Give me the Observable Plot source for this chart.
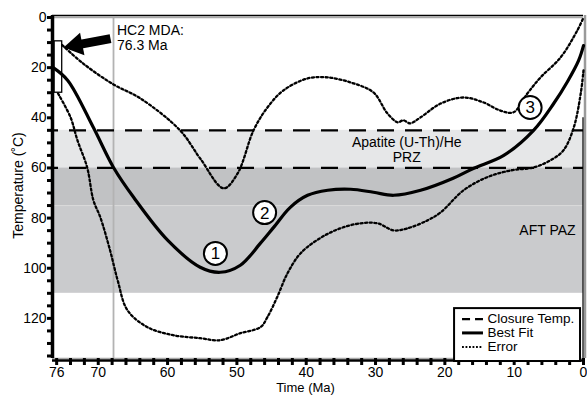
<!DOCTYPE html>
<html><head><meta charset="utf-8">
<script src="https://cdn.jsdelivr.net/npm/d3@7"></script>
<script src="https://cdn.jsdelivr.net/npm/@observablehq/plot@0.6"></script>
<style>body{margin:0;background:#fff}</style>
</head><body><div id="chart"></div>
<script>
// ---- data (Time in Ma, Temperature in °C) ----
const bestFit = [
  [76.5,20],[74.4,25.1],[70.7,43.9],[67.8,59.8],[64.9,71.7],[60.0,88.8],[55.3,99.6],
  [52.4,101.6],[49.5,98.8],[46.6,90.0],[44.7,83.7],[42.3,75.7],[39.8,70.9],[36.9,68.9],
  [33.6,68.5],[30.3,69.7],[27.4,70.9],[23.5,68.9],[18.8,64.1],[15.9,60.2],[11.5,55.0],
  [7.2,45.0],[4.3,34.3],[2.3,25.5],[0.7,17.1],[0,11.2]
];
const upperError = [
  [75.2,11],[72.2,18.3],[67.8,26.7],[63.9,32.3],[58.2,45.0],[55.3,56.2],[51.9,68.1],
  [49.9,62.2],[47.6,45.0],[45.6,35.9],[43.3,29.1],[39.8,24.3],[36.9,23.9],[33.6,25.9],
  [30.3,29.9],[28.3,38.2],[26.8,41.8],[26.0,41.0],[25.0,42.2],[23.5,39.8],[20.6,34.3],
  [17.3,31.9],[14.4,33.9],[12.0,37.1],[10.1,37.8],[8.1,30.3],[6.2,23.9],[3.3,15.9],
  [0.9,5.2],[0,0]
];
const lowerError = [
  [75.8,30.3],[74.0,39.8],[73.0,49.0],[71.6,59.8],[70.7,72.9],[69.7,79.7],[68.3,92.8],
  [67.2,104.8],[65.8,116.7],[62.9,123.5],[59.2,126.7],[55.3,127.9],[52.4,128.7],
  [49.5,125.9],[46.6,123.5],[45.6,119.5],[44.2,111.6],[42.7,102.0],[40.8,94.0],
  [38.0,88.0],[35.1,84.1],[32.2,82.1],[29.7,82.1],[27.4,84.9],[25.4,84.1],[22.5,80.9],
  [20.6,77.7],[17.3,68.9],[13.9,63.7],[10.5,61.0],[7.2,59.8],[4.8,57.0],[2.9,53.0],
  [1.4,43.8],[0.4,30.3],[0,21.1]
];
const closureTemps = [45, 60];
const heBand = [45, 60];
const aftUpper = [60, 75];
const aftLower = [75, 110];
const mdaAge = 67.8;
const mdaBoxX = [76.3, 75.2];
const mdaBoxT = [9.5, 30];
const arrowTail = [68.23, 8.4];
const arrowNeck = [72.47, 10.6];
const arrowTip = [75.0, 12.0];
const stageLabels = ["1", "2", "3"];
const stageAge = [53.1, 46.0, 7.7];
const stageTemp = [94.1, 77.8, 35.9];
const xTickValues = d3.range(0, 77, 2);
const xTickLabels = [76, 70, 60, 50, 40, 30, 20, 10, 0];
const yTickValues = d3.range(0, 136, 5);
const yTickLabels = [0, 20, 40, 60, 80, 100, 120];
const legendNames = ["Closure Temp.", "Best Fit", "Error"];

// ---- chart ----
const FONT = "'Liberation Sans', Arial, Helvetica, sans-serif";
const stages = stageLabels.map((n, i) => ({n, x: stageAge[i], y: stageTemp[i]}));
const arrowHead = {draw(ctx) { ctx.moveTo(0, 0); ctx.lineTo(-19, -11.5); ctx.lineTo(-19, 11.5); ctx.closePath(); }};
const legendRows = [120.3, 125.8, 131.4];
const legendStyles = [
  {stroke: "black", strokeWidth: 2.4, strokeDasharray: "8,5"},
  {stroke: "black", strokeWidth: 3},
  {stroke: "black", strokeWidth: 2, strokeDasharray: "1.8,1.7"}
];
const dotted = {stroke: "black", strokeWidth: 2.3, strokeDasharray: "2.1,2.5", curve: "catmull-rom"};

const chart = Plot.plot({
  width: 587, height: 395,
  marginLeft: 52, marginRight: 4, marginTop: 15, marginBottom: 37,
  style: {fontFamily: FONT, fontSize: "14px", background: "white", overflow: "visible", color: "black"},
  x: {domain: [76.6, 0], label: null},
  y: {domain: [-0.8, 136], reverse: true, label: null},
  marks: [
    // bands
    Plot.rect([heBand], {x1: 76.6, x2: 0, y1: d => d[0], y2: d => d[1], fill: "#e6e7e8"}),
    Plot.rect([aftUpper], {x1: 76.6, x2: 0, y1: d => d[0], y2: d => d[1], fill: "#c1c2c4"}),
    Plot.rect([aftLower], {x1: 76.6, x2: 0, y1: d => d[0], y2: d => d[1], fill: "#cacbcd"}),
    Plot.ruleY([aftLower[0]], {stroke: "#dadada", strokeWidth: 1}),
    // MDA vertical line
    Plot.ruleX([mdaAge], {y1: 0, y2: 136, stroke: "#b3b3b3", strokeWidth: 1.8}),
    // closure temperatures
    Plot.ruleY(closureTemps, {stroke: "black", strokeWidth: 2.2, strokeDasharray: "17,11", strokeDashoffset: 11}),
    // frame
    Plot.ruleY([0], {stroke: "#a9a9a9", strokeWidth: 1.5}),
    Plot.ruleY([-0.8], {stroke: "black", strokeWidth: 1.5}),
    Plot.ruleX([0], {stroke: "#9a9a9a", strokeWidth: 2.5, dx: 1.5}),
    Plot.ruleX([0], {y1: 40, y2: 136, stroke: "black", strokeWidth: 1.2, dx: -0.5}),
    Plot.ruleY([136], {stroke: "#a9a9a9", strokeWidth: 1.5}),
    // MDA box
    Plot.rect([0], {x1: mdaBoxX[0], x2: mdaBoxX[1], y1: mdaBoxT[0], y2: mdaBoxT[1], fill: "white", stroke: "black", strokeWidth: 1.3}),
    // curves
    Plot.line(upperError, {x: d => d[0], y: d => d[1], ...dotted}),
    Plot.line(lowerError, {x: d => d[0], y: d => d[1], ...dotted}),
    Plot.line(bestFit, {x: d => d[0], y: d => d[1], stroke: "black", strokeWidth: 3.2, curve: "catmull-rom"}),
    // arrow
    Plot.link([0], {x1: arrowTail[0], y1: arrowTail[1], x2: arrowNeck[0], y2: arrowNeck[1], stroke: "black", strokeWidth: 9}),
    Plot.dot([arrowTip], {x: d => d[0], y: d => d[1], symbol: arrowHead, fill: "black", stroke: "none", rotate: 169}),
    // stage circles
    Plot.dot(stages, {x: "x", y: "y", r: 11.5, fill: "white", stroke: "black", strokeWidth: 2}),
    Plot.text(stages, {x: "x", y: "y", text: "n", fontSize: 17, dy: 0.5}),
    // annotations
    Plot.text(["HC2 MDA:\n76.3 Ma"], {x: 67.3, y: 3.0, textAnchor: "start", lineAnchor: "top", lineHeight: 1.05, fontSize: 14}),
    Plot.text(["Apatite (U-Th)/He\nPRZ"], {x: 25.5, y: 52.8, lineHeight: 1.07, fontSize: 14}),
    Plot.text(["AFT PAZ"], {x: 5.2, y: 85, fontSize: 14}),
    // axes
    Plot.axisX({ticks: xTickValues, tickFormat: d => xTickLabels.includes(d) ? String(d) : "", tickSize: 7, tickPadding: 2, strokeWidth: 3, fontSize: 14, label: null}),
    Plot.axisY({ticks: yTickValues, tickFormat: d => yTickLabels.includes(d) ? String(d) : "", tickSize: 5, tickPadding: 1, strokeWidth: 3, fontSize: 14, label: null}),
    Plot.ruleX([76.6], {stroke: "black", strokeWidth: 3.5, y1: -0.8, y2: 136, dx: 0}),
    Plot.ruleY([136], {stroke: "black", strokeWidth: 2.5, dy: 2}),
    Plot.text(["Time (Ma)"], {frameAnchor: "bottom", textAnchor: "middle", lineAnchor: "middle", dx: -12.5, dy: 29, fontSize: 13}),
    Plot.text(["Temperature (˚C)"], {frameAnchor: "left", textAnchor: "middle", lineAnchor: "middle", rotate: -90, dx: -34, dy: -1.5, fontSize: 14}),
    // legend
    Plot.rect([0], {x1: 18.6, x2: 0.43, y1: 116.1, y2: 137.2, fill: "white", stroke: "black", strokeWidth: 2}),
    ...legendStyles.map((s, i) => Plot.ruleY([legendRows[i]], {x1: 17.45, x2: 14.43, ...s})),
    Plot.text(legendNames, {x: 13.85, y: (d, i) => legendRows[i], textAnchor: "start", fontSize: 13.5})
  ]
});
document.getElementById("chart").append(chart);
</script>
</body></html>
